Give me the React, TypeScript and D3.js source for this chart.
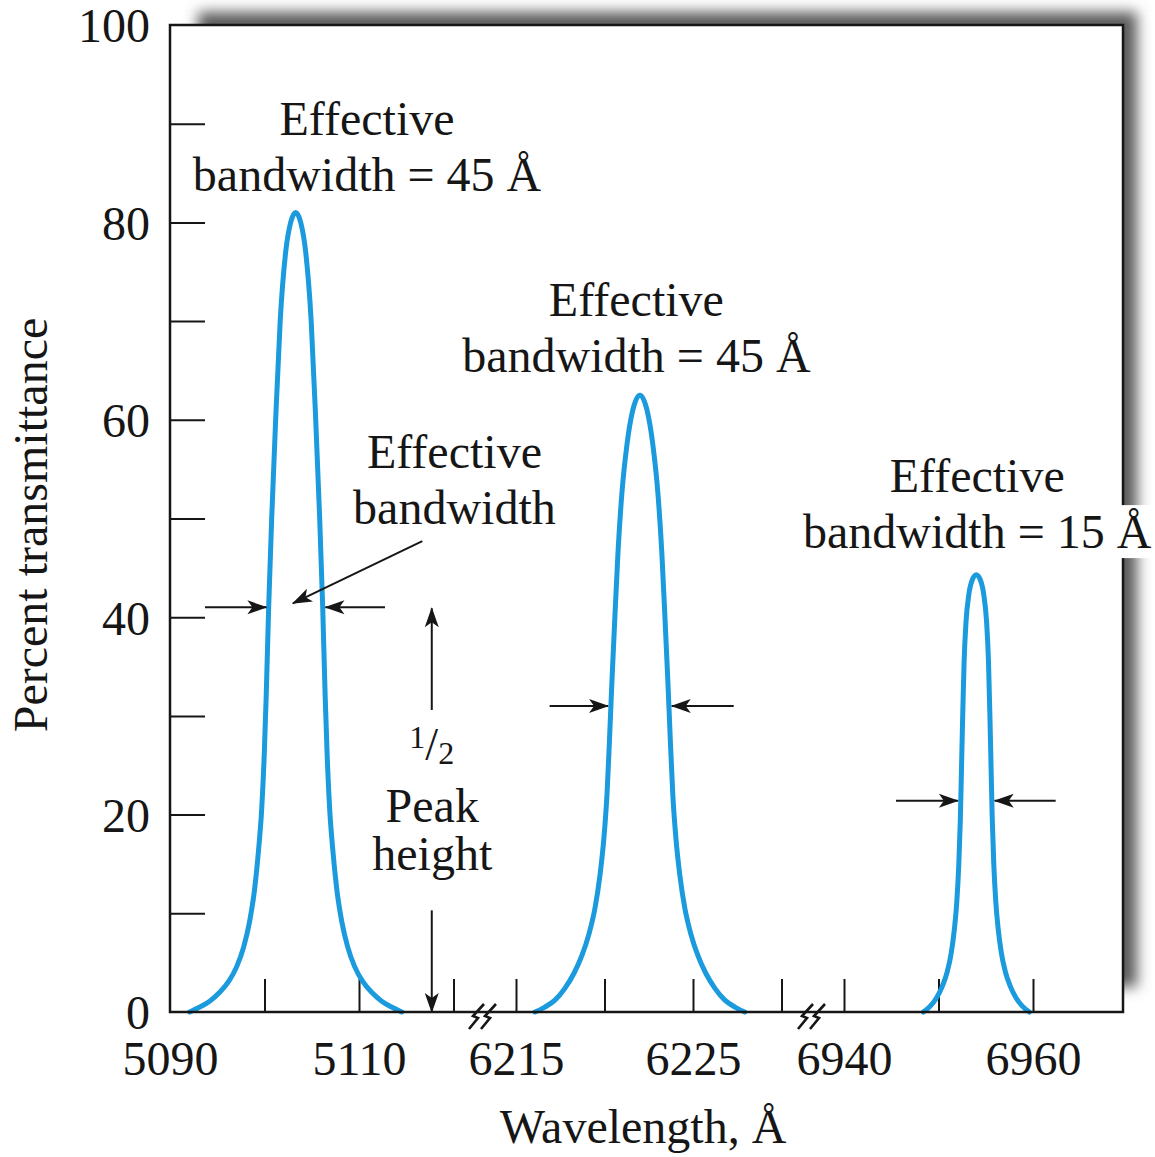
import React, { useRef, useEffect } from 'react';
import * as d3 from 'd3';

// Peak 1 (first axis segment, 5090-5120 Å)
const peak1Wavelength = [5092.08, 5093.14, 5094.2, 5095.26, 5096.21, 5097.06, 5097.8, 5098.43, 5098.96, 5099.38, 5099.7, 5099.97, 5100.18, 5100.44, 5100.76, 5101.18, 5101.66, 5102.24, 5102.77, 5103.3, 5103.83, 5104.36, 5104.94, 5105.42, 5105.84, 5106.16, 5106.42, 5106.63, 5106.9, 5107.22, 5107.64, 5108.17, 5108.8, 5109.54, 5110.39, 5111.34, 5112.4, 5113.46, 5114.52];
const peak1Transmittance = [0, 0.5, 1.1, 2.0, 3.1, 4.6, 6.6, 9.2, 12.5, 16.5, 20.5, 26, 32, 41, 50, 60, 70, 77, 80, 81, 80, 77, 70, 60, 50, 41, 32, 26, 20.5, 16.5, 12.5, 9.2, 6.6, 4.6, 3.1, 2.0, 1.1, 0.5, 0];

// Peak 2 (middle segment, 6213-6232 Å)
const peak2Wavelength = [6216.07, 6216.63, 6217.2, 6217.76, 6218.27, 6218.72, 6219.12, 6219.46, 6219.74, 6219.97, 6220.14, 6220.28, 6220.42, 6220.56, 6220.76, 6220.98, 6221.27, 6221.6, 6222.0, 6222.4, 6222.73, 6223.02, 6223.24, 6223.44, 6223.58, 6223.72, 6223.86, 6224.03, 6224.26, 6224.54, 6224.88, 6225.28, 6225.73, 6226.24, 6226.8, 6227.37, 6227.93];
const peak2Transmittance = [0, 0.5, 1.2, 2.4, 3.9, 5.7, 7.9, 10.5, 13.8, 17.7, 22, 27.5, 33.5, 39, 46.5, 52.5, 57.5, 61, 62.5, 61, 57.5, 52.5, 46.5, 39, 33.5, 27.5, 22, 17.7, 13.8, 10.5, 7.9, 5.7, 3.9, 2.4, 1.2, 0.5, 0];

// Peak 3 (last segment, 6937-6970 Å)
const peak3Wavelength = [6948.39, 6949.13, 6949.77, 6950.4, 6950.93, 6951.35, 6951.67, 6951.94, 6952.15, 6952.31, 6952.43, 6952.56, 6952.71, 6952.91, 6953.21, 6953.58, 6954.0, 6954.42, 6954.79, 6955.09, 6955.29, 6955.44, 6955.57, 6955.69, 6955.85, 6956.06, 6956.33, 6956.65, 6957.07, 6957.6, 6958.23, 6958.87, 6959.61];
const peak3Transmittance = [0, 0.6, 1.4, 2.6, 4.1, 6.0, 8.3, 11.2, 15, 19.5, 24.5, 30, 35.5, 39.5, 42.3, 43.8, 44.3, 43.8, 42.3, 39.5, 35.5, 30, 24.5, 19.5, 15, 11.2, 8.3, 6.0, 4.1, 2.6, 1.4, 0.6, 0];

const yTicks = [10, 20, 30, 40, 50, 60, 70, 80, 90];
const yLabels = [0, 20, 40, 60, 80, 100];
const seg1Ticks = [5100, 5110, 5120];
const seg1Labels = [5090, 5110];
const seg2Ticks = [6215, 6220, 6225, 6230];
const seg2Labels = [6215, 6225];
const seg3Ticks = [6940, 6950, 6960];
const seg3Labels = [6940, 6960];

// half-height width markers: [tail, tip] wavelengths at a transmittance level
const halfWidth1 = { level: 41, left: [5093.7, 5100.2], right: [5112.75, 5106.45] };
const halfWidth2 = { level: 31, left: [6216.9, 6220.2], right: [6227.3, 6223.8] };
const halfWidth3 = { level: 21.4, left: [6945.5, 6952.05], right: [6962.4, 6955.95] };

const App: React.FC = () => {
  const svgRef = useRef<SVGSVGElement | null>(null);

  useEffect(() => {
    if (!svgRef.current) return;
    const svg = d3.select(svgRef.current);
    svg.selectAll('*').remove();

    const plot = { left: 170, top: 25, right: 1123, bottom: 1012 };
    const font = "'Liberation Serif', 'Times New Roman', serif";
    const ink = '#161616';
    const blue = '#1b9ade';

    const y = d3.scaleLinear().domain([0, 100]).range([plot.bottom, plot.top]);
    const x1 = d3.scaleLinear().domain([5090, 5110]).range([170, 359]);
    const x2 = d3.scaleLinear().domain([6215, 6225]).range([516, 693]);
    const x3 = d3.scaleLinear().domain([6940, 6960]).range([844, 1033]);
    const breaks = [483, 812];

    const defs = svg.append('defs');
    defs.append('filter')
      .attr('id', 'shadowBlur')
      .attr('x', '-10%').attr('y', '-10%')
      .attr('width', '120%').attr('height', '120%')
      .append('feGaussianBlur')
      .attr('stdDeviation', 7);

    defs.append('marker')
      .attr('id', 'arrowHead')
      .attr('viewBox', '-22 -8 24 16')
      .attr('refX', 0)
      .attr('refY', 0)
      .attr('markerWidth', 24)
      .attr('markerHeight', 16)
      .attr('markerUnits', 'userSpaceOnUse')
      .attr('orient', 'auto')
      .append('path')
      .attr('d', 'M1,0 L-19,-7 L-14,0 L-19,7 Z')
      .attr('fill', ink);

    // drop shadow behind the frame
    svg.append('rect')
      .attr('x', 198).attr('y', 12)
      .attr('width', 939).attr('height', 975)
      .attr('fill', '#5a5a5a')
      .attr('filter', 'url(#shadowBlur)');

    svg.append('rect')
      .attr('x', plot.left).attr('y', plot.top)
      .attr('width', plot.right - plot.left).attr('height', plot.bottom - plot.top)
      .attr('fill', '#fff');

    const chart = svg.append('g');

    // Y ticks (inside) and labels
    chart.append('g')
      .attr('transform', `translate(${plot.left},0)`)
      .call(d3.axisLeft(y).tickValues(yTicks).tickSize(-35).tickFormat(() => ''))
      .call(g => g.select('.domain').remove())
      .selectAll('line').attr('stroke', ink).attr('stroke-width', 2);

    chart.append('g')
      .attr('transform', `translate(${plot.left},0)`)
      .call(d3.axisLeft(y).tickValues(yLabels).tickSize(0).tickPadding(20).tickFormat(d3.format('d')))
      .call(g => g.select('.domain').remove())
      .attr('font-family', font)
      .attr('font-size', 48)
      .selectAll('text').attr('fill', ink).attr('dy', '0.35em');

    // X segments: ticks and labels
    const segments: [d3.ScaleLinear<number, number>, number[], number[]][] = [
      [x1, seg1Ticks, seg1Labels],
      [x2, seg2Ticks, seg2Labels],
      [x3, seg3Ticks, seg3Labels],
    ];
    segments.forEach(([xs, ticks, labels]) => {
      chart.append('g')
        .attr('transform', `translate(0,${plot.bottom})`)
        .call(d3.axisBottom(xs).tickValues(ticks).tickSize(-33).tickFormat(() => ''))
        .call(g => g.select('.domain').remove())
        .selectAll('line').attr('stroke', ink).attr('stroke-width', 2);

      chart.append('g')
        .attr('transform', `translate(0,${plot.bottom})`)
        .call(d3.axisBottom(xs).tickValues(labels).tickSize(0).tickPadding(29).tickFormat(d3.format('d')))
        .call(g => g.select('.domain').remove())
        .attr('font-family', font)
        .attr('font-size', 48)
        .selectAll('text').attr('fill', ink);
    });

    // Peaks
    const peaks: [d3.ScaleLinear<number, number>, number[], number[]][] = [
      [x1, peak1Wavelength, peak1Transmittance],
      [x2, peak2Wavelength, peak2Transmittance],
      [x3, peak3Wavelength, peak3Transmittance],
    ];
    peaks.forEach(([xs, wl, tr]) => {
      const line = d3.line<[number, number]>()
        .x(d => xs(d[0]))
        .y(d => y(d[1]))
        .curve(d3.curveMonotoneX);
      chart.append('path')
        .datum(d3.zip(wl, tr) as [number, number][])
        .attr('d', line)
        .attr('fill', 'none')
        .attr('stroke', blue)
        .attr('stroke-width', 5)
        .attr('stroke-linecap', 'round')
        .attr('stroke-linejoin', 'round');
    });

    // Frame
    chart.append('rect')
      .attr('x', plot.left).attr('y', plot.top)
      .attr('width', plot.right - plot.left).attr('height', plot.bottom - plot.top)
      .attr('fill', 'none')
      .attr('stroke', ink)
      .attr('stroke-width', 2.5);

    // Axis breaks (double zigzag)
    breaks.forEach(bx => {
      [-6, 6].forEach(off => {
        const cx = bx + off;
        const cy = plot.bottom + 2;
        chart.append('path')
          .attr('d', `M${cx - 8},${cy + 15} L${cx + 1},${cy + 4} L${cx - 4},${cy + 2} L${cx + 7},${cy - 10}`)
          .attr('fill', 'none')
          .attr('stroke', ink)
          .attr('stroke-width', 2.6)
          .attr('stroke-linejoin', 'miter');
      });
    });

    // Arrows
    const arrow = (ax: number, ay: number, bx: number, by: number) => {
      chart.append('line')
        .attr('x1', ax).attr('y1', ay)
        .attr('x2', bx).attr('y2', by)
        .attr('stroke', ink)
        .attr('stroke-width', 2)
        .attr('marker-end', 'url(#arrowHead)');
    };
    const hw: [d3.ScaleLinear<number, number>, typeof halfWidth1][] = [
      [x1, halfWidth1], [x2, halfWidth2], [x3, halfWidth3],
    ];
    hw.forEach(([xs, h]) => {
      arrow(xs(h.left[0]), y(h.level), xs(h.left[1]), y(h.level));
      arrow(xs(h.right[0]), y(h.level), xs(h.right[1]), y(h.level));
    });
    arrow(x1(5116.7), y(47.7), x1(5103.0), y(41.4));
    arrow(x1(5117.7), y(30.6), x1(5117.7), y(40.9));
    arrow(x1(5117.7), y(10.3), x1(5117.7), y(0));

    // Text
    const label = (tx: number, ty: number, str: string, backed = false) => {
      const t = chart.append('text')
        .attr('x', tx).attr('y', ty)
        .attr('text-anchor', 'middle')
        .attr('font-family', font)
        .attr('font-size', 48)
        .attr('fill', ink)
        .text(str);
      if (backed) {
        const bb = (t.node() as SVGTextElement).getBBox();
        chart.insert('rect', () => t.node())
          .attr('x', bb.x - 2).attr('y', bb.y)
          .attr('width', bb.width + 6).attr('height', bb.height)
          .attr('fill', '#fff');
      }
    };
    label(x1(5110.85), y(88.9), 'Effective');
    label(x1(5110.85), y(83.2), 'bandwidth = 45 Å');
    label(x2(6221.8), y(70.5), 'Effective');
    label(x2(6221.8), y(64.8), 'bandwidth = 45 Å');
    label(x3(6954.1), y(52.7), 'Effective');
    label(x3(6954.1), y(47.0), 'bandwidth = 15 Å', true);
    label(x1(5120.1), y(55.1), 'Effective');
    label(x1(5120.1), y(49.4), 'bandwidth');
    label(x1(5117.75), y(19.25), 'Peak');
    label(x1(5117.75), y(14.4), 'height');

    const half = chart.append('text')
      .attr('x', x1(5117.7)).attr('y', y(25.5))
      .attr('text-anchor', 'middle')
      .attr('font-family', font)
      .attr('fill', ink);
    half.append('tspan').attr('font-size', 32).attr('dy', -12).text('1');
    half.append('tspan').attr('font-size', 46).attr('dy', 12).text('/');
    half.append('tspan').attr('font-size', 32).attr('dy', 4).text('2');

    // Axis titles
    chart.append('text')
      .attr('x', 643).attr('y', 1143)
      .attr('text-anchor', 'middle')
      .attr('font-family', font)
      .attr('font-size', 48)
      .attr('fill', ink)
      .text('Wavelength, Å');

    chart.append('text')
      .attr('transform', 'translate(47,525) rotate(-90)')
      .attr('text-anchor', 'middle')
      .attr('font-family', font)
      .attr('font-size', 48)
      .attr('fill', ink)
      .text('Percent transmittance');
  }, []);

  return (
    <svg
      ref={svgRef}
      width={1155}
      height={1157}
      style={{ position: 'absolute', left: 0, top: 0, background: '#fff' }}
    />
  );
};

export default App;
